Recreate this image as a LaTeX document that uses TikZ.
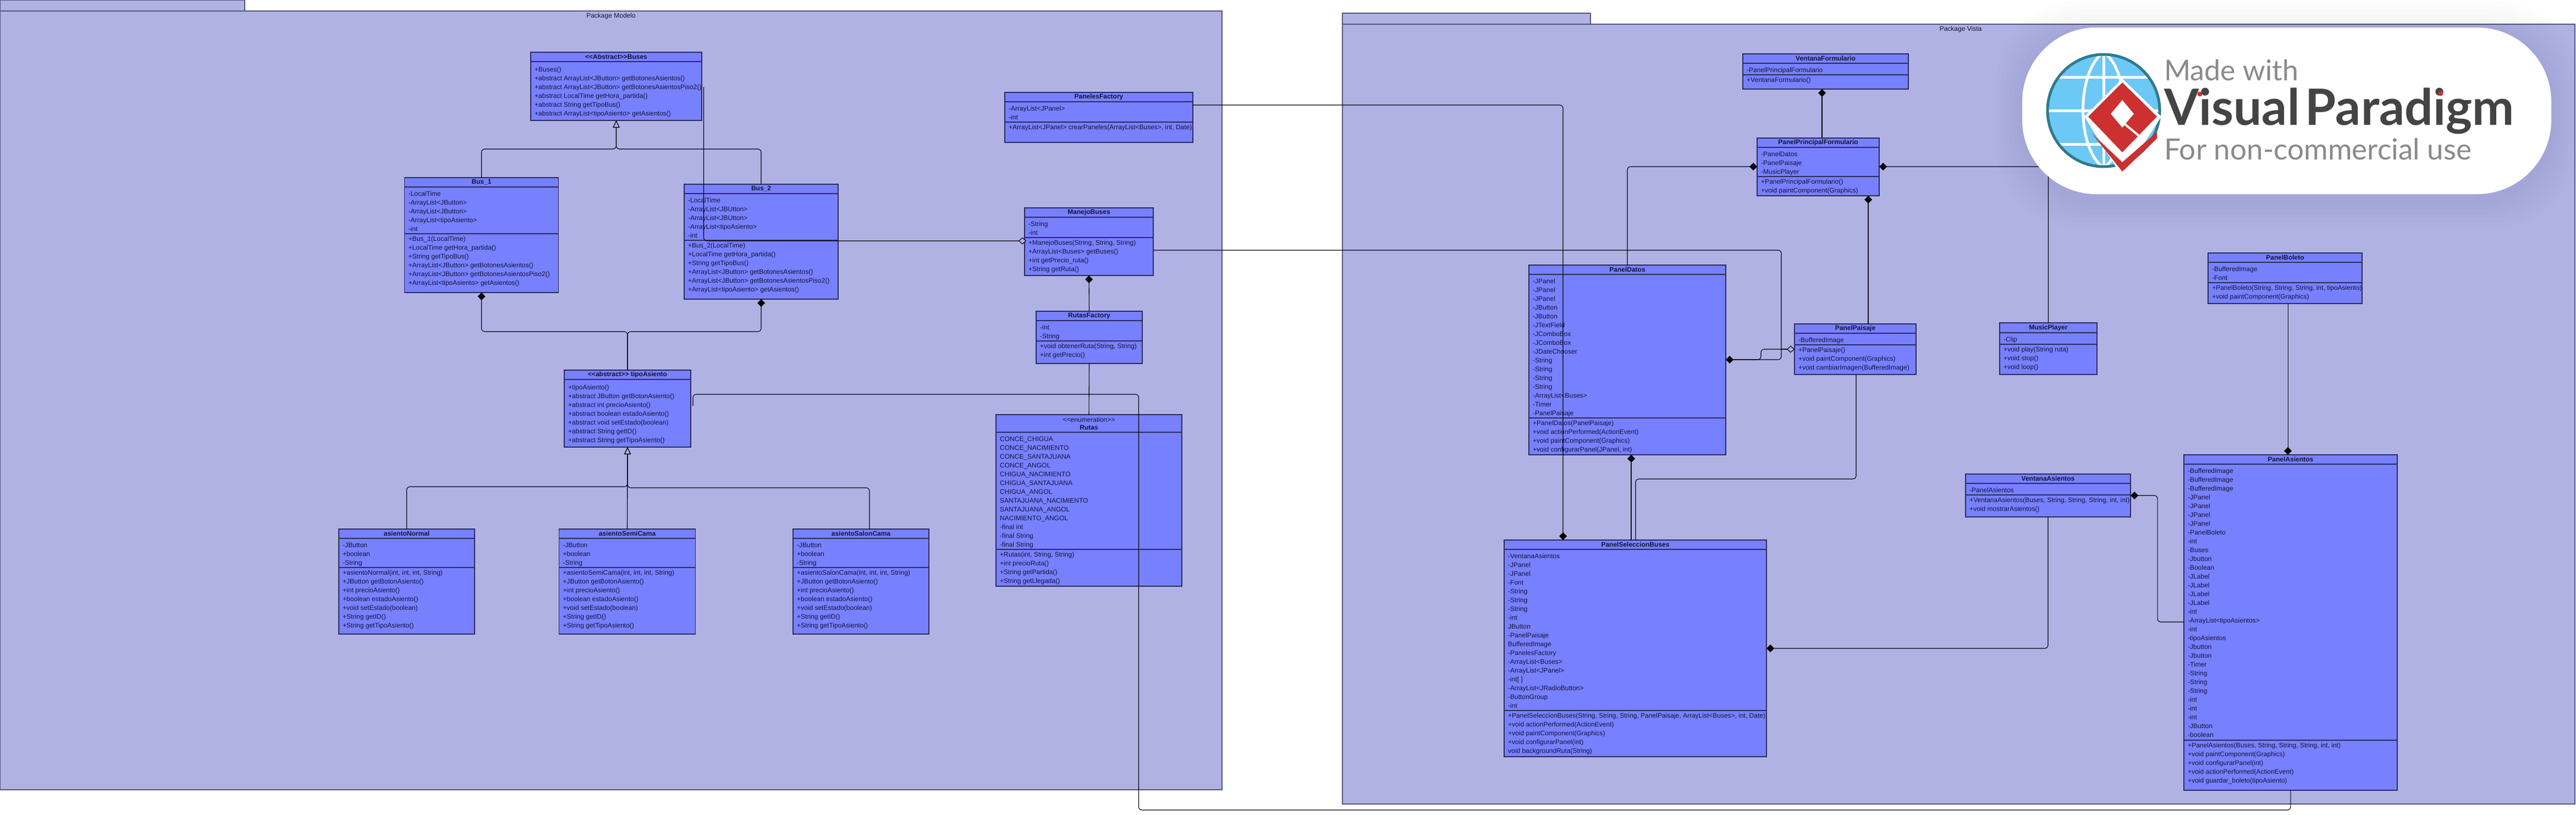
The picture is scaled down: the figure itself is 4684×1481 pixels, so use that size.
\documentclass[tikz,border=0pt]{standalone}
\usepackage{fontspec}
\setmainfont{Liberation Sans}
\newfontfamily\logofont{Lato}
\usetikzlibrary{arrows.meta}
\definecolor{pkgfill}{HTML}{B0B2E4}
\definecolor{pkgline}{HTML}{55557A}
\definecolor{boxfill}{HTML}{7780FF}
\definecolor{boxline}{HTML}{2B2B5C}
\definecolor{txtcol}{HTML}{14143A}
\definecolor{vpred}{HTML}{CC3030}
\definecolor{vpblue}{HTML}{6CC8F5}
\definecolor{vpteal}{HTML}{2F7A8C}
\definecolor{vpgray}{HTML}{8A8A8A}
\definecolor{vpdark}{HTML}{444444}
\tikzset{
  x=1pt,y=-1pt,
  pkgbox/.style={draw=pkgline,fill=pkgfill,line width=1.5pt},
  pkglabel/.style={font=\fontsize{12}{14}\selectfont,text=txtcol,inner sep=0pt},
  umlbox/.style={rectangle,draw=boxline,fill=boxfill,line width=1.5pt,inner sep=0pt,outer sep=0pt,anchor=north west},
  compartment/.style={draw=boxline,line width=1.3pt},
  umltitle/.style={font=\fontsize{12}{14}\selectfont\bfseries,text=txtcol,inner sep=0pt,align=center},
  umllist/.style={font=\fontsize{12}{16}\selectfont,text=txtcol,inner sep=0pt,anchor=north west,align=left},
  conn/.style={draw=black,line width=1.1pt,rounded corners=6pt},
  comp/.style={{Diamond[length=14pt,width=14pt]}-},
  compend/.style={-{Diamond[length=14pt,width=14pt]}},
  aggr/.style={{Diamond[open,length=14pt,width=13pt,fill=pkgfill]}-},
  aggrend/.style={-{Diamond[open,length=14pt,width=13pt,fill=pkgfill]}},
  gen/.style={-{Triangle[open,length=13pt,width=12pt,fill=pkgfill]}},
}
\newcommand{\umlclass}[8]{%
  \pgfmathsetmacro\uW{#4-#2}\pgfmathsetmacro\uH{#5-#3}%
  \node[umlbox,minimum width=\uW pt,minimum height=\uH pt] (#1) at (#2,#3) {};
  \coordinate (#1-h) at (#2,#6);
  \coordinate (#1-s) at (#2,#7);
  \draw[compartment] (#1-h) -- (#4,#6);
  \pgfmathsetmacro\uCx{(#2+#4)/2}\pgfmathsetmacro\uCy{(#3+#6)/2}%
  \node[umltitle] (#1-t) at (\uCx,\uCy) {#8};
}
\newcommand{\umlattrs}[2]{%
  \draw[compartment] (#1-s) -- (#1-s -| #1.east);
  \node[umllist] (#1-a) at ([shift={(7,5)}]#1-h) {\rule{0pt}{11pt}#2};
}
\newcommand{\umlmeths}[2]{%
  \node[umllist] (#1-m) at ([shift={(7,2.5)}]#1-s) {\rule{0pt}{11pt}#2};
}
\begin{document}
\begin{tikzpicture}
\useasboundingbox (0,0) rectangle (4684,1481);
\fill[white] (0,0) rectangle (4684,1481);

% packages
\draw[pkgbox] (0,0) rectangle (445,20);
\draw[pkgbox] (0,20) rectangle (2222,1436);
\node[pkglabel] (pkgModelo) at (1111,29) {Package Modelo};
\draw[pkgbox] (2441,24) rectangle (2892,44);
\draw[pkgbox] (2441,44) rectangle (4682,1462);
\node[pkglabel] (pkgVista) at (3565,53) {Package Vista};

% Package Modelo classes
\umlclass{Buses}{965}{95}{1276}{219}{112}{117}{<{}<Abstract>{}>Buses}
\umlmeths{Buses}{+Buses()\\+abstract ArrayList<JButton> getBotonesAsientos()\\+abstract ArrayList<JButton> getBotonesAsientosPiso2()\\+abstract LocalTime getHora\_partida()\\+abstract String getTipoBus()\\+abstract ArrayList<tipoAsiento> getAsientos()}

\umlclass{Bus1}{735.5}{323}{1015.5}{532}{340}{425}{Bus\_1}
\umlattrs{Bus1}{-LocalTime\\-ArrayList<JButton>\\-ArrayList<JButton>\\-ArrayList<tipoAsiento>\\-int}
\umlmeths{Bus1}{+Bus\_1(LocalTime)\\+LocalTime getHora\_partida()\\+String getTipoBus()\\+ArrayList<JButton> getBotonesAsientos()\\+ArrayList<JButton> getBotonesAsientosPiso2()\\+ArrayList<tipoAsiento> getAsientos()}

\umlclass{Bus2}{1244}{335}{1524}{544}{352}{437}{Bus\_2}
\umlattrs{Bus2}{-LocalTime\\-ArrayList<JBUtton>\\-ArrayList<JBUtton>\\-ArrayList<tipoAsiento>\\-int}
\umlmeths{Bus2}{+Bus\_2(LocalTime)\\+LocalTime getHora\_partida()\\+String getTipoBus()\\+ArrayList<JButton> getBotonesAsientos()\\+ArrayList<JButton> getBotonesAsientosPiso2()\\+ArrayList<tipoAsiento> getAsientos()}

\umlclass{tipoAsiento}{1026}{673}{1256}{813}{690}{695}{<{}<abstract>{}> tipoAsiento}
\umlmeths{tipoAsiento}{+tipoAsiento()\\+abstract JButton getBotonAsiento()\\+abstract int precioAsiento()\\+abstract boolean estadoAsiento()\\+abstract void setEstado(boolean)\\+abstract String getID()\\+abstract String getTipoAsiento()}

\umlclass{asientoNormal}{616}{962}{863}{1153}{979}{1032}{asientoNormal}
\umlattrs{asientoNormal}{-JButton\\+boolean\\-String}
\umlmeths{asientoNormal}{+asientoNormal(int, int, int, String)\\+JButton getBotonAsiento()\\+int precioAsiento()\\+boolean estadoAsiento()\\+void setEstado(boolean)\\+String getID()\\+String getTipoAsiento()}

\umlclass{asientoSemiCama}{1016.5}{962}{1264.5}{1153}{979}{1032}{asientoSemiCama}
\umlattrs{asientoSemiCama}{-JButton\\+boolean\\-String}
\umlmeths{asientoSemiCama}{+asientoSemiCama(int, int, int, String)\\+JButton getBotonAsiento()\\+int precioAsiento()\\+boolean estadoAsiento()\\+void setEstado(boolean)\\+String getID()\\+String getTipoAsiento()}

\umlclass{asientoSalonCama}{1442}{962}{1689}{1153}{979}{1032}{asientoSalonCama}
\umlattrs{asientoSalonCama}{-JButton\\+boolean\\-String}
\umlmeths{asientoSalonCama}{+asientoSalonCama(int, int, int, String)\\+JButton getBotonAsiento()\\+int precioAsiento()\\+boolean estadoAsiento()\\+void setEstado(boolean)\\+String getID()\\+String getTipoAsiento()}

\umlclass{PanelesFactory}{1827}{168}{2169}{259}{185}{222}{PanelesFactory}
\umlattrs{PanelesFactory}{-ArrayList<JPanel>\\-int}
\umlmeths{PanelesFactory}{+ArrayList<JPanel> crearPaneles(ArrayList<Buses>, int, Date)}

\umlclass{ManejoBuses}{1863}{378}{2097}{501}{395}{432}{ManejoBuses}
\umlattrs{ManejoBuses}{-String\\-int}
\umlmeths{ManejoBuses}{+ManejoBuses(String, String, String)\\+ArrayList<Buses> getBuses()\\+int getPrecio\_ruta()\\+String getRuta()}

\umlclass{RutasFactory}{1884}{566}{2077}{661}{583}{620}{RutasFactory}
\umlattrs{RutasFactory}{-int\\-String}
\umlmeths{RutasFactory}{+void obtenerRuta(String, String)\\+int getPrecio()}

\umlclass{Rutas}{1811}{754}{2149}{1066}{786}{999}{{\normalfont <{}<enumeration>{}>}\\Rutas}
\umlattrs{Rutas}{CONCE\_CHIGUA\\CONCE\_NACIMIENTO\\CONCE\_SANTAJUANA\\CONCE\_ANGOL\\CHIGUA\_NACIMIENTO\\CHIGUA\_SANTAJUANA\\CHIGUA\_ANGOL\\SANTAJUANA\_NACIMIENTO\\SANTAJUANA\_ANGOL\\NACIMIENTO\_ANGOL\\-final int\\-final String\\-final String}
\umlmeths{Rutas}{+Rutas(int, String, String)\\+int precioRuta()\\+String getPartida()\\+String getLlegada()}

% Package Vista classes
\umlclass{VentanaFormulario}{3169}{98}{3470}{162}{115}{136}{VentanaFormulario}
\umlattrs{VentanaFormulario}{-PanelPrincipalFormulario}
\umlmeths{VentanaFormulario}{+VentanaFormulario()}

\umlclass{PanelPrincipal}{3195}{251}{3417}{356}{268}{321}{PanelPrincipalFormulario}
\umlattrs{PanelPrincipal}{-PanelDatos\\-PanelPaisaje\\-MusicPlayer}
\umlmeths{PanelPrincipal}{+PanelPrincipalFormulario()\\+void paintComponent(Graphics)}

\umlclass{PanelDatos}{2780}{482}{3138}{827}{499}{760}{PanelDatos}
\umlattrs{PanelDatos}{-JPanel\\-JPanel\\-JPanel\\-JButton\\-JButton\\-JTextField\\-JComboBox\\-JComboBox\\-JDateChooser\\-String\\-String\\-String\\-String\\-ArrayList<Buses>\\-Timer\\-PanelPaisaje}
\umlmeths{PanelDatos}{+PanelDatos(PanelPaisaje)\\+void actionPerformed(ActionEvent)\\+void paintComponent(Graphics)\\+void configurarPanel(JPanel, int)}

\umlclass{PanelPaisaje}{3263}{589}{3484}{681}{606}{627}{PanelPaisaje}
\umlattrs{PanelPaisaje}{-BufferedImage}
\umlmeths{PanelPaisaje}{+PanelPaisaje()\\+void paintComponent(Graphics)\\+void cambiarImagen(BufferedImage)}

\umlclass{PanelSeleccion}{2735}{982}{3212}{1376}{999}{1292}{PanelSeleccionBuses}
\umlattrs{PanelSeleccion}{-VentanaAsientos\\-JPanel\\-JPanel\\-Font\\-String\\-String\\-String\\-int\\JButton\\-PanelPaisaje\\BufferedImage\\-PanelesFactory\\-ArrayList<Buses>\\-ArrayList<JPanel>\\-int[ ]\\-ArrayList<JRadioButton>\\-ButtonGroup\\-int}
\umlmeths{PanelSeleccion}{+PanelSeleccionBuses(String, String, String, PanelPaisaje, ArrayList<Buses>, int, Date)\\+void actionPerformed(ActionEvent)\\+void paintComponent(Graphics)\\+void configurarPanel(int)\\void backgroundRuta(String)}

\umlclass{MusicPlayer}{3636}{587}{3813}{681}{605}{626}{MusicPlayer}
\umlattrs{MusicPlayer}{-Clip}
\umlmeths{MusicPlayer}{+void play(String ruta)\\+void stop()\\+void loop()}

\umlclass{VentanaAsientos}{3574}{862}{3874}{940}{879}{900}{VentanaAsientos}
\umlattrs{VentanaAsientos}{-PanelAsientos}
\umlmeths{VentanaAsientos}{+VentanaAsientos(Buses, String, String, String, int, int)\\+void mostrarAsientos()}

\umlclass{PanelBoleto}{4015}{460}{4295}{552}{477}{514}{PanelBoleto}
\umlattrs{PanelBoleto}{-BufferedImage\\-Font}
\umlmeths{PanelBoleto}{+PanelBoleto(String, String, String, int, tipoAsiento)\\+void paintComponent(Graphics)}

\umlclass{PanelAsientos}{3971}{827}{4359}{1437}{844}{1346}{PanelAsientos}
\umlattrs{PanelAsientos}{-BufferedImage\\-BufferedImage\\-BufferedImage\\-JPanel\\-JPanel\\-JPanel\\-JPanel\\-PanelBoleto\\-int\\-Buses\\-Jbutton\\-Boolean\\-JLabel\\-JLabel\\-JLabel\\-JLabel\\-int\\-ArrayList<tipoAsientos>\\-int\\-tipoAsientos\\-Jbutton\\-Jbutton\\-Timer\\-String\\-String\\-String\\-int\\-int\\-int\\-JButton\\-boolean}
\umlmeths{PanelAsientos}{+PanelAsientos(Buses, String, String, String, int, int)\\+void paintComponent(Graphics)\\+void configurarPanel(int)\\+void actionPerformed(ActionEvent)\\+void guardar\_boleto(tipoAsiento)}

% connectors: Modelo
\draw[conn,gen] (Bus1.north) -- (Bus1.north |- 0,271) -- (Buses.south |- 0,271) -- (Buses.south);
\draw[conn,gen] (Bus2.north) -- (Bus2.north |- 0,271) -- (Buses.south |- 0,271) -- (Buses.south);
\draw[conn,comp] (Bus1.south) -- (Bus1.south |- 0,603) -- (tipoAsiento.north |- 0,603) -- (tipoAsiento.north);
\draw[conn,comp] (Bus2.south) -- (Bus2.south |- 0,603) -- (tipoAsiento.north |- 0,603) -- (tipoAsiento.north);
\draw[conn,gen] (asientoNormal.north) -- (asientoNormal.north |- 0,885) -- (tipoAsiento.south |- 0,885) -- (tipoAsiento.south);
\draw[conn,gen] (asientoSemiCama.north) -- (tipoAsiento.south);
\draw[conn,gen] (1581,0 |- asientoSalonCama.north) -- (1581,887) -- (tipoAsiento.south |- 0,887) -- (tipoAsiento.south);
\draw[conn,aggrend] (1279.5,0 |- Buses.north) ++(0,63) -- (1279.5,438) -- (1866,438);
\draw[conn,comp] (ManejoBuses.south) -- (RutasFactory.north);
\draw[conn] (RutasFactory.south) -- (Rutas.north);

% connectors: between packages and Vista
\draw[conn,compend] (PanelesFactory.east |- 0,191) -- (2842,191) -- (2842,0 |- PanelSeleccion.north);
\draw[conn,compend] (ManejoBuses.east |- 0,455) -- (3239,455) -- (3239,654) -- (PanelDatos.east |- 0,654);
\draw[conn] (3263,635) -- (3202,635) -- (3202,654) -- (3152,654);
\draw[conn,aggr] (PanelPaisaje.west |- 0,635) -- (3240,635);
\draw[conn,comp] (PanelPrincipal.west |- 0,303) -- (PanelDatos.north |- 0,303) -- (PanelDatos.north);
\draw[conn,comp] (3313,0 |- VentanaFormulario.south) -- (3313,0 |- PanelPrincipal.north);
\draw[conn,comp] (3397,0 |- PanelPrincipal.south) -- (3397,0 |- PanelPaisaje.north);
\draw[conn,comp] (PanelPrincipal.east |- 0,303) -- (MusicPlayer.north |- 0,303) -- (MusicPlayer.north);
\draw[conn,compend] (VentanaAsientos.south) -- (VentanaAsientos.south |- PanelSeleccion.east) -- (PanelSeleccion.east);
\draw[conn,comp] (2966,0 |- PanelDatos.south) -- (2966,0 |- PanelSeleccion.north);
\draw[conn] (3375,0 |- PanelPaisaje.south) -- (3375,871) -- (2974,871) -- (2974,0 |- PanelSeleccion.north);
\draw[conn,comp] (VentanaAsientos.east |- 0,901) -- (3923,901) -- (3923,1131) -- (PanelAsientos.west |- 0,1131);
\draw[conn,compend] (4160,0 |- PanelBoleto.south) -- (4160,0 |- PanelAsientos.north);
\draw[conn] (PanelAsientos.south) -- (PanelAsientos.south |- 0,1473) -- (2070.5,1473) -- (2070.5,717) -- (1260,717) -- (1260,738);

% watermark
\begin{scope}
  \clip (3500,0) rectangle (4684,1481);
  \foreach \e in {48,40,32,24,16,8}{
    \fill[black,opacity=.008,rounded corners=150pt] (3677-\e,50-\e) rectangle (4639+\e,353+\e+12);
  }
\end{scope}
\fill[white,rounded corners=135pt] (3677,50) rectangle (4639,353);
\fill[vpblue] (3825,201) circle (102);
\begin{scope}
  \clip (3825,201) circle (102);
  \draw[white,line width=5pt] (3725,140) -- (3925,140);
  \draw[white,line width=5pt] (3725,201) -- (3925,201);
  \draw[white,line width=5pt] (3725,262) -- (3925,262);
  \draw[white,line width=5pt] (3825,95) -- (3825,305);
  \draw[white,line width=5pt] (3825,95) .. controls (3775,130) and (3775,270) .. (3825,305);
  \draw[white,line width=5pt] (3825,95) .. controls (3875,130) and (3875,270) .. (3825,305);
\end{scope}
\draw[vpteal,line width=5pt] (3825,201) circle (102);
\fill[white] (3859,143) -- (3930,212) -- (3859,322) -- (3790,212) -- cycle;
\fill[vpred] (3859,150) -- (3922,212) -- (3859,277) -- (3797,212) -- cycle;
\fill[white] (3859,182) -- (3880,207) -- (3859,232) -- (3838,207) -- cycle;
\draw[white,line width=4pt] (3864,226) -- (3900,256);
\fill[vpred] (3804,243) -- (3859,295) -- (3922,240) -- (3922,252) -- (3859,312) -- cycle;
\node[anchor=base west,inner sep=0pt,text=vpgray,font=\logofont\fontsize{52}{60}\selectfont] (logoA) at (3935,146) {Made with};
\node[anchor=base west,inner sep=0pt,text=vpdark,font=\logofont\fontsize{91}{96}\selectfont\bfseries] (logoB) at (3935,227) {{\spaceskip=10pt Visual Paradigm}};
\node[anchor=base west,inner sep=0pt,text=vpgray,font=\logofont\fontsize{53}{60}\selectfont] (logoC) at (3935,290) {For non-commercial use};
\fill[vpred] (4000,171) circle (4.5);
\fill[vpred] (4438,170) circle (4.5);
\end{tikzpicture}
\end{document}
